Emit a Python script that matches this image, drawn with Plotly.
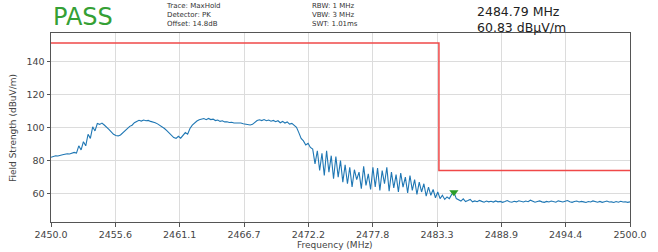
import plotly.graph_objects as go

# ---- data ----
f_start = 2450.0
f_step = 0.2
level = [
    82.0, 82.6, 83.0, 82.8, 83.4, 83.6, 83.9, 84.2, 84.0, 84.6,
    85.0, 84.6, 89.0, 86.5, 91.5, 89.0, 96.0, 93.5, 100.5, 98.0,
    102.5, 102.0, 102.8, 101.6, 100.5, 99.0, 97.5, 96.0, 95.2, 95.0,
    95.6, 97.0, 98.5, 99.6, 100.8, 101.5, 103.0, 103.8, 104.5, 104.0,
    104.6, 104.2, 104.4, 103.8, 103.5, 103.0, 102.3, 101.5, 100.5, 99.5,
    98.2, 96.8, 95.3, 94.0, 93.5, 94.8, 93.6, 95.5, 97.0, 96.0,
    99.5, 101.5, 103.0, 104.0, 104.8, 105.2, 105.5, 104.8, 105.6, 104.9,
    105.2, 104.3, 104.6, 103.8, 104.2, 103.5, 103.6, 103.1, 103.3, 102.8,
    102.9, 102.6, 102.8, 102.4, 102.2, 101.8, 101.6, 102.0, 103.2, 104.3,
    104.8, 104.3, 104.9, 104.2, 104.6, 103.9, 104.4, 103.6, 104.2, 103.0,
    103.8, 102.8, 103.5, 102.2, 102.6, 101.2, 100.2, 97.0, 93.5, 92.0,
    89.5, 90.5, 88.0, 87.0, 78.0, 86.0, 74.0, 84.5, 71.0, 86.0,
    73.0, 83.0, 69.0, 82.5, 70.0, 80.0, 67.0, 77.5, 66.0, 76.0,
    64.0, 74.5, 68.5, 73.0, 63.0, 76.5, 65.0, 72.0, 62.5, 76.0,
    64.0, 75.5, 62.0, 74.0, 66.0, 76.0, 61.5, 73.0, 63.5, 71.5,
    61.0, 72.5, 64.0, 70.0, 60.5, 71.0, 62.0, 68.5, 59.5, 67.0,
    61.0, 66.0, 58.5, 64.0, 59.0, 62.5, 57.5, 61.0, 57.0, 59.0,
    56.5, 58.0, 57.0, 59.5, 60.83, 57.0, 56.0, 55.5, 56.8, 55.2,
    55.8, 56.5, 55.0, 55.6, 55.1, 55.9, 55.3, 54.8, 55.5, 55.0,
    55.4, 54.9, 55.6, 55.0, 55.3, 54.7, 55.2, 55.8, 55.1, 54.8,
    55.4, 55.0, 55.7, 55.2, 54.9, 55.5, 55.1, 56.0, 55.3, 54.8,
    55.2, 55.6, 55.0, 54.7, 55.3, 54.9, 55.5, 55.1, 54.8, 55.6,
    55.2, 54.9, 55.4, 55.8, 55.1, 54.7, 55.2, 55.5, 54.9, 55.3,
    55.0, 54.6, 55.2, 54.9, 55.6, 55.0, 54.8, 55.3, 54.7, 55.1,
    55.5, 54.9, 55.0, 54.6, 55.2, 54.8, 55.4, 54.9, 55.1, 54.7,
    55.0,
]
freq = [round(f_start + f_step * i, 2) for i in range(len(level))]

limit_freq = [2450.0, 2483.5, 2483.5, 2500.0]
limit_level = [151.3, 151.3, 74.1, 74.1]

marker_freq = [2484.79]
marker_level = [60.83]

xtick_vals = [2450.0, 2455.556, 2461.111, 2466.667, 2472.222, 2477.778,
              2483.333, 2488.889, 2494.444, 2500.0]
xtick_text = ["2450.0", "2455.6", "2461.1", "2466.7", "2472.2", "2477.8",
              "2483.3", "2488.9", "2494.4", "2500.0"]
ytick_vals = [60, 80, 100, 120, 140]

verdict = "PASS"
info_left = ["Trace: MaxHold", "Detector: PK", "Offset: 14.8dB"]
info_mid = ["RBW: 1 MHz", "VBW: 3 MHz", "SWT: 1.01ms"]
marker_text = ["2484.79 MHz", "60.83 dBµV/m"]
x_title = "Frequency (MHz)"
y_title = "Field Strength (dBuV/m)"

# ---- figure ----
W, H = 658, 252
L, R, T, B = 51, 28, 33, 30
pw, ph = W - L - R, H - T - B

def px(x):  # window pixel -> paper
    return (x - L) / pw

def py(y):  # window pixel -> paper
    return (H - B - y) / ph

FONT = "DejaVu Sans"

fig = go.Figure()
fig.add_trace(go.Scatter(x=limit_freq, y=limit_level, mode="lines",
                         line=dict(color="rgb(240,72,72)", width=1.5),
                         hoverinfo="skip", showlegend=False))
fig.add_trace(go.Scatter(x=freq, y=level, mode="lines",
                         line=dict(color="#1f77b4", width=1.1),
                         showlegend=False))
fig.add_trace(go.Scatter(x=marker_freq, y=marker_level, mode="markers",
                         marker=dict(symbol="triangle-down", size=8,
                                     color="#2a9d2a"),
                         showlegend=False))

ann = []
ann.append(dict(x=px(51), y=py(17), xref="paper", yref="paper",
                text=verdict, showarrow=False, xanchor="left", yanchor="middle",
                font=dict(family=FONT, size=24, color="#35a035")))
ann.append(dict(x=px(165), y=py(1.5), xref="paper", yref="paper",
                text="<br>".join(info_left), showarrow=False, align="left",
                xanchor="left", yanchor="top", borderpad=0,
                font=dict(family=FONT, size=7, color="#333")))
ann.append(dict(x=px(311), y=py(1.5), xref="paper", yref="paper",
                text="<br>".join(info_mid), showarrow=False, align="left",
                xanchor="left", yanchor="top", borderpad=0,
                font=dict(family=FONT, size=7, color="#333")))
ann.append(dict(x=px(476), y=py(2.5), xref="paper", yref="paper",
                text="<br>".join(marker_text), showarrow=False, align="left",
                xanchor="left", yanchor="top", borderpad=0,
                font=dict(family=FONT, size=12.5, color="#222")))
ann.append(dict(x=px(335), y=py(245), xref="paper", yref="paper",
                text=x_title, showarrow=False, xanchor="center", yanchor="middle",
                font=dict(family=FONT, size=9, color="#444")))
ann.append(dict(x=px(13), y=py(128), xref="paper", yref="paper",
                text=y_title, showarrow=False, xanchor="center", yanchor="middle",
                textangle=-90,
                font=dict(family=FONT, size=9, color="#444")))

axis_common = dict(showgrid=True, gridcolor="#dcdcdc", gridwidth=1,
                   showline=True, linecolor="#555", linewidth=1, mirror=True,
                   ticks="outside", ticklen=3.5, tickcolor="#555",
                   tickfont=dict(family=FONT, size=9.5, color="#444"),
                   zeroline=False, automargin=False)

fig.update_layout(
    width=W, height=H,
    margin=dict(l=L, r=R, t=T, b=B),
    paper_bgcolor="white", plot_bgcolor="white",
    xaxis=dict(range=[2450, 2500], tickvals=xtick_vals, ticktext=xtick_text,
               **axis_common),
    yaxis=dict(range=[42.8, 157.4], tickvals=ytick_vals, **axis_common),
    annotations=ann,
    showlegend=False,
)

# remove the page's default 8px body margin so the figure fills the window
fig.write_html("out.html",
               config={"displayModeBar": False},
               post_script="document.body.style.margin='0px';")
